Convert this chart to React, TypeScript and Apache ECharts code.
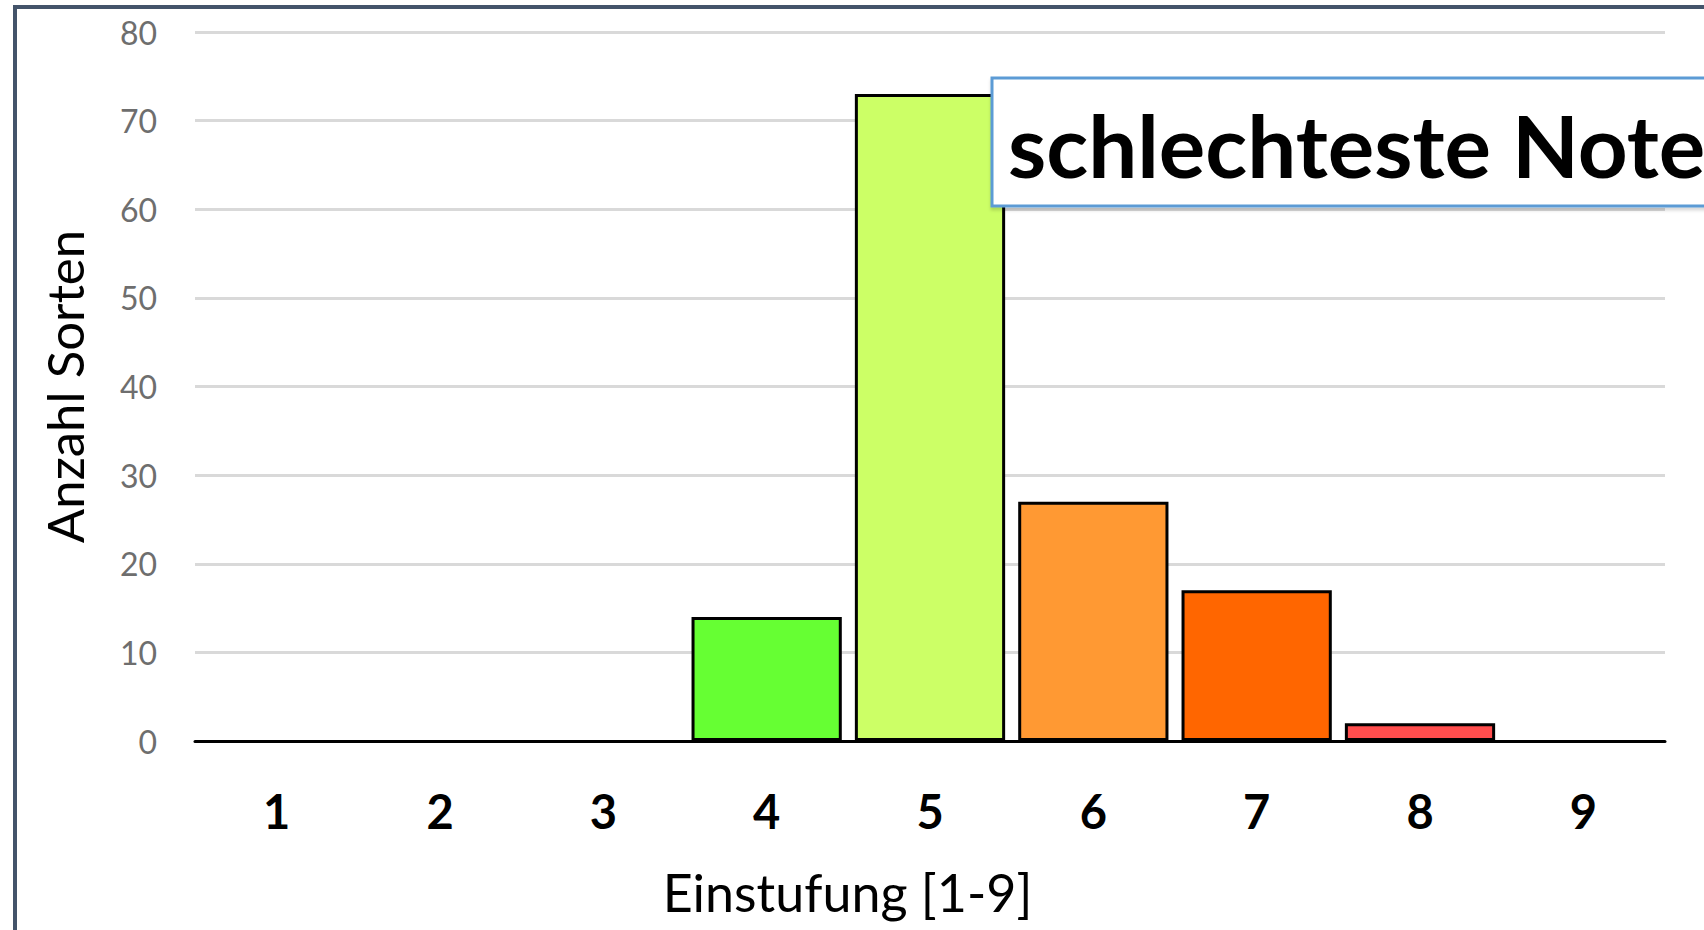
import React, { useEffect, useRef } from "react";
import * as echarts from "echarts";

const categories = ["1", "2", "3", "4", "5", "6", "7", "8", "9"];
const values = [0, 0, 0, 14, 73, 27, 17, 2, 0];
const barColors = ["#66FF33", "#66FF33", "#66FF33", "#66FF33", "#CCFF66", "#FF9933", "#FF6600", "#FF4D4D", "#FF4D4D"];
const yTicks = { min: 0, max: 80, interval: 10 };
const titleText = "schlechteste Note";
const xAxisName = "Einstufung [1-9]";
const yAxisName = "Anzahl Sorten";

const FONT = "Lato, 'Open Sans', sans-serif";

export default function App() {
  const ref = useRef<HTMLDivElement>(null);
  useEffect(() => {
    if (!ref.current) return;
    const chart = echarts.init(ref.current, undefined, { renderer: "svg" });
    chart.setOption({
      animation: false,
      backgroundColor: "#ffffff",
      grid: { left: 195, right: 39, top: 32, bottom: 189, containLabel: false },
      xAxis: {
        type: "category",
        data: categories,
        axisLine: { lineStyle: { color: "#000000", width: 3 } },
        axisTick: { show: false },
        axisLabel: { color: "#000000", fontSize: 47, fontWeight: "bold", fontFamily: FONT, margin: 46 },
        name: xAxisName,
        nameLocation: "middle",
        nameGap: 125,
        nameTextStyle: { color: "#000000", fontSize: 52, fontFamily: FONT, padding: [0, 165, 0, 0] },
      },
      yAxis: {
        type: "value",
        min: yTicks.min,
        max: yTicks.max,
        interval: yTicks.interval,
        axisLine: { show: false },
        axisTick: { show: false },
        splitLine: { lineStyle: { color: "#D9D9D9", width: 3 } },
        axisLabel: { color: "#6E6E6E", fontSize: 32, fontFamily: FONT, margin: 38 },
        name: yAxisName,
        nameLocation: "middle",
        nameGap: 105,
        nameRotate: 90,
        nameTextStyle: { color: "#000000", fontSize: 51, fontFamily: FONT },
      },
      series: [
        {
          type: "bar",
          barCategoryGap: "8%",
          z: 2,
          data: values.map((v, i) => ({
            value: v,
            itemStyle: { color: barColors[i], borderWidth: v === 0 ? 0 : 3 },
          })),
          itemStyle: { borderColor: "#000000", borderWidth: 3 },
        },
      ],
      graphic: [
        {
          type: "rect",
          shape: { x: 15, y: 7, width: 1800, height: 1000 },
          style: { fill: "none", stroke: "#44546A", lineWidth: 4 },
          silent: true,
          z: 100,
        },
        {
          type: "rect",
          z: 110,
          shape: { x: 992, y: 78, width: 800, height: 128 },
          style: { fill: "#ffffff", stroke: "#5B9BD5", lineWidth: 3, shadowColor: "rgba(0,0,0,0.15)", shadowBlur: 3, shadowOffsetY: 3 },
        },
        {
          type: "text",
          z: 111,
          x: 1008,
          y: 144,
          style: {
            text: titleText,
            fill: "#000000",
            font: `bold 87px ${FONT}`,
            verticalAlign: "middle",
          },
        },
      ],
    });
    return () => chart.dispose();
  }, []);
  return (
    <div style={{ position: "absolute", left: 0, top: 0, width: 1704, height: 930, overflow: "hidden" }}>
      <div ref={ref} style={{ width: 1704, height: 930 }} />
    </div>
  );
}
